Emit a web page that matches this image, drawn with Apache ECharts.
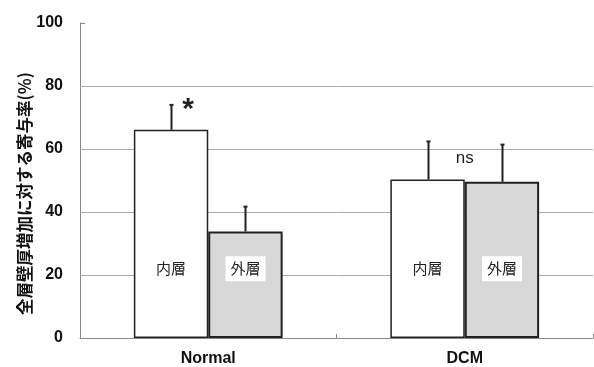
<!DOCTYPE html>
<html><head><meta charset="utf-8">
<script src="https://cdn.jsdelivr.net/npm/echarts@6/dist/echarts.min.js"></script>
<style>html,body{margin:0;padding:0;background:#fff}#c{width:594px;height:367px}</style>
</head><body><div id="c"></div>
<script>
var categories = ['Normal', 'DCM'];
var innerValues = [66.1, 50.3];
var innerErrTop = [74.0, 62.4];
var outerValues = [33.8, 49.6];
var outerErrTop = [41.7, 61.4];
var innerLabel = '内層';
var outerLabel = '外層';
var labelLevel = 22;
var gridValues = [20, 40, 60, 80];
var yTicks = [0, 20, 40, 60, 80, 100];
var marks = [{cat: 0, value: 72.5, text: '*', dx: -0.135}, {cat: 1, value: 57, text: 'ns', dx: 0}];

var chart = echarts.init(document.getElementById('c'));
var GAP = 0.42;
function errItem(side) {
  return function (params, api) {
    var c = api.value(0);
    var band = api.size([1, 0])[0];
    var bw = band * (1 - GAP) / 2;
    var off = side * bw / 2;
    var base = api.coord([c, api.value(1)]);
    var top = api.coord([c, api.value(2)]);
    var x = Math.round(base[0] + off) + 0.5;
    var lab = api.coord([c, labelLevel]);
    return {
      type: 'group',
      children: [
        {type: 'line', shape: {x1: x, y1: base[1], x2: x, y2: top[1]}, style: {stroke: '#222', lineWidth: 2}},
        {type: 'line', shape: {x1: x - 2, y1: top[1], x2: x + 2, y2: top[1]}, style: {stroke: '#222', lineWidth: 2}},
        {type: 'text', x: lab[0] + off, y: lab[1], style: {
          text: side < 0 ? innerLabel : outerLabel, fill: '#222', font: '15px "Noto Sans CJK JP"',
          align: 'center', verticalAlign: 'middle',
          backgroundColor: side < 0 ? 'transparent' : '#fff', padding: side < 0 ? 0 : [5, 5]
        }}
      ]
    };
  };
}
chart.setOption({
  animation: false,
  grid: {left: 80, right: 1, top: 23, bottom: 28},
  xAxis: {
    type: 'category', data: categories,
    axisLine: {lineStyle: {color: '#888', width: 1}},
    axisTick: {show: true, inside: true, length: 4, lineStyle: {color: '#888'}},
    axisLabel: {color: '#111', fontWeight: 'bold', fontSize: 16, fontFamily: 'Liberation Sans', margin: 13}
  },
  yAxis: {
    type: 'value', min: 0, max: 100, interval: 20,
    name: '全層壁厚増加に対する寄与率(%)', nameLocation: 'middle', nameGap: 47, nameRotate: 90,
    nameMoveOverlap: false,
    nameTextStyle: {color: '#111', fontWeight: 'bold', fontSize: 16.5, fontFamily: 'Noto Sans CJK JP', padding: [0, 26, 0, 0]},
    axisLine: {show: true, lineStyle: {color: '#888', width: 1}},
    axisTick: {show: true, inside: true, length: 5, lineStyle: {color: '#888'}},
    splitLine: {show: false},
    axisLabel: {color: '#111', fontWeight: 'bold', fontSize: 16, fontFamily: 'Liberation Sans', margin: 17,
      formatter: function (v) { return yTicks.indexOf(v) >= 0 ? String(v) : ''; }}
  },
  series: [
    {type: 'bar', data: innerValues, barGap: '0%', barCategoryGap: (GAP * 100) + '%', z: 3,
      itemStyle: {color: '#fff', borderColor: '#222', borderWidth: 1.5},
      markLine: {silent: true, symbol: 'none', label: {show: false}, z: 1,
        lineStyle: {color: '#aaa', width: 1, type: 'solid'},
        data: gridValues.map(function (v) { return {yAxis: v}; })}},
    {type: 'bar', data: outerValues, z: 3,
      itemStyle: {color: '#d8d8d8', borderColor: '#222', borderWidth: 2}},
    {type: 'custom', renderItem: errItem(-1), z: 5,
      data: categories.map(function (c, i) { return [i, innerValues[i], innerErrTop[i]]; })},
    {type: 'custom', renderItem: errItem(1), z: 5,
      data: categories.map(function (c, i) { return [i, outerValues[i], outerErrTop[i]]; })},
    {type: 'custom', z: 6,
      renderItem: function (params, api) {
        var m = marks[params.dataIndex];
        var band = api.size([1, 0])[0];
        var p = api.coord([m.cat, m.value]);
        var big = m.text === '*';
        return {type: 'text', x: p[0] + m.dx * band * (1 - GAP), y: p[1], style: {
          text: m.text, fill: '#222', align: 'center', verticalAlign: 'middle',
          font: big ? 'bold 30px "Liberation Sans"' : '17px "Liberation Sans"'}};
      },
      data: marks.map(function (m) { return [m.cat, m.value]; })}
  ]
});
</script></body></html>
